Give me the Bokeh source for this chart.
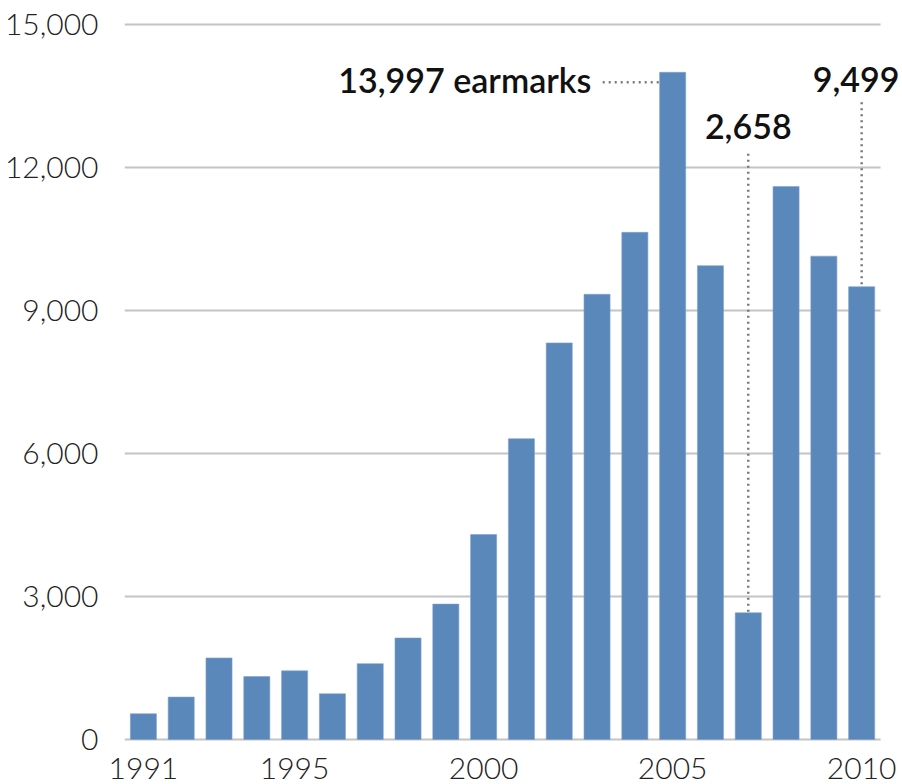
from bokeh.plotting import figure
from bokeh.models import ColumnDataSource, Range1d, FixedTicker, Label, NumeralTickFormatter
from bokeh.embed import file_html
from bokeh.resources import INLINE

# Earmarks per year
years = [1991, 1992, 1993, 1994, 1995, 1996, 1997, 1998, 1999, 2000,
         2001, 2002, 2003, 2004, 2005, 2006, 2007, 2008, 2009, 2010]
earmarks = [540, 890, 1710, 1320, 1440, 960, 1590, 2130, 2840, 4300,
            6310, 8320, 9340, 10640, 13997, 9940, 2658, 11600, 10140, 9499]

x_ticks = [1991, 1995, 2000, 2005, 2010]
y_ticks = [0, 3000, 6000, 9000, 12000, 15000]

# Highlighted years and their callouts
peak_year, peak_value = 2005, 13997
low_year, low_value = 2007, 2658
last_year, last_value = 2010, 9499

BAR_WIDTH = 0.69
X_START, X_END = 1990.5, 2010.5
TICK_FONT = "Lato Light, Lato"
NOTE_FONT = "Lato Semibold, Lato Medium, Lato"

# The frame runs to the right edge so the last callout is not clipped;
# the gridlines stop at the end of the category axis.
p = figure(width=902, height=784, output_backend="svg", toolbar_location=None,
           x_range=Range1d(X_START, 2011.08), y_range=Range1d(-210, 15210),
           min_border_left=124, min_border_right=0,
           min_border_top=14, min_border_bottom=35)
p.outline_line_color = None
p.background_fill_color = "white"
p.border_fill_color = "white"

p.xgrid.grid_line_color = None
p.ygrid.grid_line_color = None
p.segment(x0=[X_START] * len(y_ticks), y0=y_ticks,
          x1=[X_END] * len(y_ticks), y1=y_ticks,
          line_color="#c4c4c4", line_width=2)

src = ColumnDataSource(data=dict(year=years, value=earmarks))
p.vbar(x="year", top="value", bottom=0, width=BAR_WIDTH, source=src,
       fill_color="#5A88BB", line_color="#7FA3CC", line_width=0.6)

# Axes
p.xaxis.ticker = FixedTicker(ticks=x_ticks)
p.yaxis.ticker = FixedTicker(ticks=y_ticks)
p.yaxis.formatter = NumeralTickFormatter(format="0,0")
for ax in (p.xaxis[0], p.yaxis[0]):
    ax.axis_line_color = None
    ax.major_tick_line_color = None
    ax.minor_tick_line_color = None
    ax.major_label_text_font = TICK_FONT
    ax.major_label_text_font_size = "30px"
    ax.major_label_text_color = "#222222"
p.yaxis.major_label_standoff = 20
p.xaxis.major_label_standoff = 2

# Dotted leader lines
dot = dict(line_color="#7a7a7a", line_width=2.5, line_dash="2 4")
p.segment(x0=[2003.15], y0=[13790], x1=[peak_year - BAR_WIDTH / 2], y1=[13790], **dot)
p.segment(x0=[low_year], y0=[12290], x1=[low_year], y1=[low_value], **dot)
p.segment(x0=[last_year], y0=[13370], x1=[last_year], y1=[last_value], **dot)

note = dict(text_font=NOTE_FONT, text_font_size="34px", text_font_style="normal",
            text_color="#111111", text_baseline="alphabetic")
p.add_layout(Label(x=2002.85, y=13850, text=f"{peak_value:,} earmarks",
                   text_align="right", **note))
p.add_layout(Label(x=low_year, y=12850, text=f"{low_value:,}",
                   text_align="center", **note))
p.add_layout(Label(x=X_END + 0.5, y=13850, text=f"{last_value:,}",
                   text_align="right", **note))

open("out.html", "w").write(file_html(p, INLINE))
